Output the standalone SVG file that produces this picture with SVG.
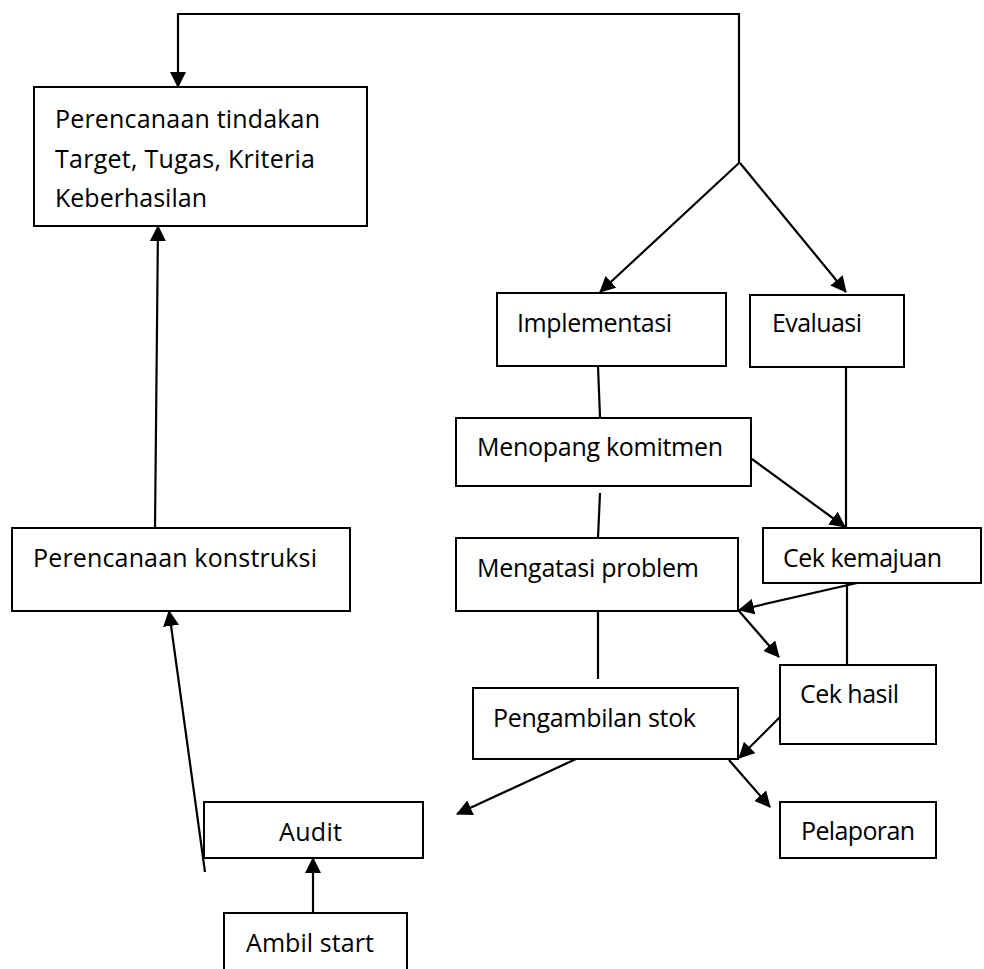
<svg xmlns="http://www.w3.org/2000/svg" width="984" height="969" viewBox="0 0 984 969">
<style>
.box{fill:#fff;stroke:#000;stroke-width:2}
.lbl{font-family:"Open Sans","Noto Sans","Liberation Sans",sans-serif;font-size:25px;fill:#000}
.c{stroke:#000;stroke-width:2.2;fill:none}
.a{marker-end:url(#ah)}
</style>
<defs>
<marker id="ah" markerUnits="userSpaceOnUse" markerWidth="16" markerHeight="16" refX="15" refY="8" orient="auto" viewBox="0 0 16 16">
<path d="M0,0 L16,8 L0,16 z" fill="#000"/>
</marker>
</defs>
<rect width="984" height="969" fill="#fff"/>
<g id="connectors">
<polyline class="c a" points="739,163 739,14 178,14 178,87"/>
<line class="c a" x1="739" y1="163" x2="600" y2="292"/>
<line class="c a" x1="740" y1="163" x2="846" y2="292"/>
<line class="c" x1="598" y1="366" x2="600" y2="417"/>
<line class="c" x1="846" y1="367" x2="846" y2="527"/>
<line class="c a" x1="752" y1="459" x2="845" y2="527"/>
<line class="c" x1="600" y1="493" x2="598" y2="538"/>
<line class="c a" x1="857" y1="583" x2="739" y2="610"/>
<line class="c" x1="847" y1="583" x2="847" y2="666"/>
<line class="c a" x1="739" y1="611" x2="779" y2="657"/>
<line class="c" x1="598" y1="611" x2="598" y2="679"/>
<line class="c a" x1="780" y1="717" x2="739" y2="758"/>
<line class="c a" x1="576" y1="759" x2="457" y2="814"/>
<line class="c a" x1="729" y1="760" x2="770" y2="807"/>
<line class="c a" x1="205" y1="872" x2="169" y2="611"/>
<line class="c a" x1="313" y1="913" x2="313" y2="858"/>
<line class="c a" x1="155" y1="528" x2="158" y2="226"/>
</g>
<g id="n-tindakan">
<rect class="box" x="34" y="87" width="333" height="139"/>
<text class="lbl" x="55" y="128" textLength="265">Perencanaan tindakan</text>
<text class="lbl" x="55" y="168" textLength="260">Target, Tugas, Kriteria</text>
<text class="lbl" x="55" y="207" textLength="152">Keberhasilan</text>
</g>
<g id="n-konstruksi">
<rect class="box" x="12" y="528" width="338" height="83"/>
<text class="lbl" x="33" y="567" textLength="284">Perencanaan konstruksi</text>
</g>
<g id="n-audit">
<rect class="box" x="204" y="802" width="219" height="56"/>
<text class="lbl" x="279" y="841" textLength="63">Audit</text>
</g>
<g id="n-ambil">
<path class="box" d="M224,970 V913 H407 V970"/>
<text class="lbl" x="246" y="952" textLength="128">Ambil start</text>
</g>
<g id="n-implementasi">
<rect class="box" x="497" y="293" width="229" height="73"/>
<text class="lbl" x="517" y="332" textLength="155">Implementasi</text>
</g>
<g id="n-evaluasi">
<rect class="box" x="750" y="295" width="154" height="72"/>
<text class="lbl" x="772" y="332" textLength="90">Evaluasi</text>
</g>
<g id="n-menopang">
<rect class="box" x="456" y="418" width="295" height="68"/>
<text class="lbl" x="477" y="456" textLength="246">Menopang komitmen</text>
</g>
<g id="n-mengatasi">
<rect class="box" x="456" y="538" width="282" height="73"/>
<text class="lbl" x="477" y="577" textLength="222">Mengatasi problem</text>
</g>
<g id="n-kemajuan">
<rect class="box" x="763" y="528" width="218" height="55"/>
<text class="lbl" x="783" y="567" textLength="159">Cek kemajuan</text>
</g>
<g id="n-hasil">
<rect class="box" x="780" y="665" width="156" height="79"/>
<text class="lbl" x="800" y="703" textLength="99">Cek hasil</text>
</g>
<g id="n-pengambilan">
<rect class="box" x="473" y="688" width="265" height="71"/>
<text class="lbl" x="493" y="727" textLength="203">Pengambilan stok</text>
</g>
<g id="n-pelaporan">
<rect class="box" x="780" y="802" width="156" height="56"/>
<text class="lbl" x="801" y="840" textLength="114">Pelaporan</text>
</g>
</svg>
